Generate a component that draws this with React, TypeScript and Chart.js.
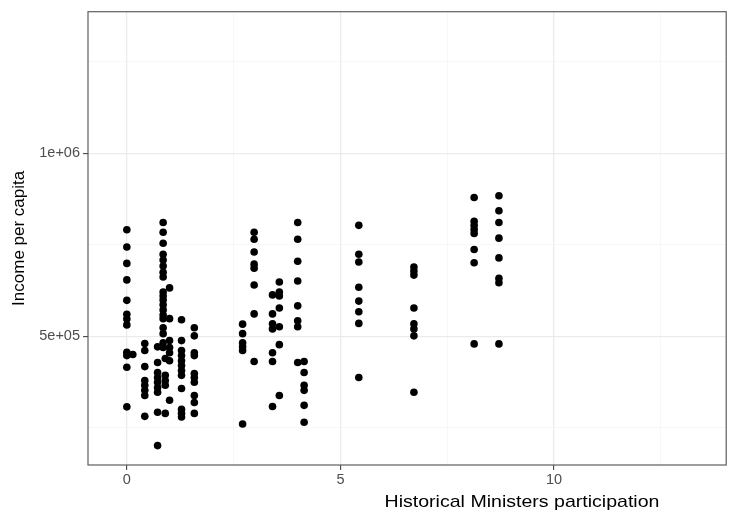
import { useEffect, useRef } from 'react';
import { Chart, registerables } from 'chart.js';

Chart.register(...registerables);

// Axis ranges
const X_MIN = -0.909;
const X_MAX = 14.03;
const Y_MIN = 148000;
const Y_MAX = 1387000;

// Grid / tick values
const X_GRID = [0, 2.5, 5, 7.5, 10, 12.5];
const X_MAJOR = [0, 5, 10];
const X_LABELS = ['0', '5', '10'];
const Y_GRID = [250000, 500000, 750000, 1000000, 1250000];
const Y_MAJOR = [500000, 1000000];
const Y_LABELS = ['5e+05', '1e+06'];

const X_TITLE = 'Historical Ministers participation';
const Y_TITLE = 'Income per capita';

// Historical ministers participation levels and incomes observed at each
const participationLevels = [0, 0.14, 0.42, 0.72, 0.85, 0.9, 1.0, 1.28, 1.58, 2.71, 2.98, 3.41, 3.57, 4.0, 4.15, 5.43, 6.72, 8.13, 8.71];

const incomeAt000 = [791000, 744000, 699000, 654000, 598000, 560000, 547000, 531000, 456000, 447000, 415000, 307000];
const incomeAt014 = [450000];
const incomeAt042 = [480000, 461000, 417000, 379000, 366000, 352000, 338000, 281000];
const incomeAt072 = [471000, 428000, 401000, 387000, 374000, 360000, 347000, 292000, 201000];
const incomeAt085 = [811000, 784000, 754000, 724000, 708000, 692000, 675000, 662000, 621000, 610000, 599000, 586000, 572000, 558000, 548000, 523000, 507000, 482000, 469000];
const incomeAt090 = [439000, 393000, 379000, 366000, 289000];
const incomeAt100 = [632000, 548000, 488000, 469000, 455000, 433000, 325000];
const incomeAt128 = [545000, 488000, 461000, 447000, 433000, 420000, 406000, 393000, 357000, 300000, 289000, 279000];
const incomeAt158 = [523000, 501000, 455000, 447000, 398000, 387000, 374000, 338000, 319000, 289000];
const incomeAt271 = [533000, 507000, 482000, 471000, 461000, 260000];
const incomeAt298 = [784000, 765000, 730000, 697000, 686000, 640000, 561000, 431000];
const incomeAt341 = [613000, 561000, 534000, 520000, 455000, 431000, 308000];
const incomeAt357 = [648000, 621000, 610000, 577000, 526000, 477000, 338000];
const incomeAt400 = [811000, 765000, 705000, 651000, 583000, 542000, 526000, 428000];
const incomeAt415 = [431000, 401000, 366000, 352000, 311000, 265000];
const incomeAt543 = [803000, 724000, 703000, 634000, 596000, 567000, 535000, 387000];
const incomeAt672 = [689000, 678000, 667000, 577000, 534000, 520000, 501000, 347000];
const incomeAt813 = [879000, 814000, 803000, 792000, 781000, 737000, 701000, 479000];
const incomeAt871 = [884000, 843000, 811000, 768000, 714000, 658000, 646000, 479000];

const incomeByLevel = [
  incomeAt000, incomeAt014, incomeAt042, incomeAt072, incomeAt085, incomeAt090, incomeAt100,
  incomeAt128, incomeAt158, incomeAt271, incomeAt298, incomeAt341, incomeAt357, incomeAt400,
  incomeAt415, incomeAt543, incomeAt672, incomeAt813, incomeAt871,
];

const FONT = '"Liberation Sans", Arial, Helvetica, sans-serif';
const MAJOR_GRID = '#ebebeb';
const MINOR_GRID = '#f3f3f3';

const decorPlugin = {
  id: 'decor',
  afterDraw(chart: any) {
    const { ctx, chartArea: a } = chart;
    ctx.save();
    ctx.strokeStyle = '#5e5e5e';
    ctx.lineWidth = 1.2;
    ctx.strokeRect(a.left, a.top, a.right - a.left, a.bottom - a.top);

    ctx.fillStyle = '#000';
    ctx.font = `17px ${FONT}`;
    ctx.textAlign = 'center';
    ctx.textBaseline = 'alphabetic';
    ctx.save();
    ctx.translate(522, 506.5);
    ctx.scale(1.15, 1);
    ctx.fillText(X_TITLE, 0, 0);
    ctx.restore();

    ctx.save();
    ctx.translate(24, (a.top + a.bottom) / 2);
    ctx.rotate(-Math.PI / 2);
    ctx.fillText(Y_TITLE, 0, 0);
    ctx.restore();
    ctx.restore();
  },
};

export default function App() {
  const canvasRef = useRef<HTMLCanvasElement | null>(null);

  useEffect(() => {
    if (!canvasRef.current) return;
    const points: { x: number; y: number }[] = [];
    participationLevels.forEach((lvl, i) => {
      incomeByLevel[i].forEach((v) => points.push({ x: lvl, y: v }));
    });

    const isMajor = (arr: number[], v: number) => arr.some((m) => Math.abs(m - v) < 1e-9);

    const chart = new Chart(canvasRef.current, {
      type: 'scatter',
      data: {
        datasets: [
          {
            data: points,
            backgroundColor: '#000',
            borderWidth: 0,
            pointRadius: 3.8,
            pointHoverRadius: 3.8,
          },
        ],
      },
      plugins: [decorPlugin],
      options: {
        responsive: false,
        animation: false,
        devicePixelRatio: 1,
        events: [],
        layout: { padding: { left: 0, right: 1, top: 9, bottom: 0 } },
        plugins: { legend: { display: false }, tooltip: { enabled: false }, title: { display: false } },
        scales: {
          x: {
            type: 'linear',
            min: X_MIN,
            max: X_MAX,
            afterBuildTicks: (s: any) => {
              s.ticks = X_GRID.map((v) => ({ value: v }));
            },
            afterFit: (s: any) => {
              s.height = 47;
            },
            border: { display: false },
            grid: {
              color: (c: any) => (isMajor(X_MAJOR, c.tick?.value) ? MAJOR_GRID : MINOR_GRID),
              lineWidth: (c: any) => (isMajor(X_MAJOR, c.tick?.value) ? 1.3 : 0.7),
              tickColor: (c: any) => (isMajor(X_MAJOR, c.tick?.value) ? '#333' : 'rgba(0,0,0,0)'),
              tickWidth: 1,
              tickLength: 5,
            },
            ticks: {
              autoSkip: false,
              maxRotation: 0,
              padding: 1,
              color: '#4d4d4d',
              font: { family: FONT, size: 14.5 },
              callback: (v: any) => {
                const idx = X_MAJOR.findIndex((m) => Math.abs(m - Number(v)) < 1e-9);
                return idx >= 0 ? X_LABELS[idx] : '';
              },
            },
          },
          y: {
            type: 'linear',
            min: Y_MIN,
            max: Y_MAX,
            afterBuildTicks: (s: any) => {
              s.ticks = Y_GRID.map((v) => ({ value: v }));
            },
            afterFit: (s: any) => {
              s.width = 88;
            },
            border: { display: false },
            grid: {
              color: (c: any) => (isMajor(Y_MAJOR, c.tick?.value) ? MAJOR_GRID : MINOR_GRID),
              lineWidth: (c: any) => (isMajor(Y_MAJOR, c.tick?.value) ? 1.3 : 0.7),
              tickColor: (c: any) => (isMajor(Y_MAJOR, c.tick?.value) ? '#333' : 'rgba(0,0,0,0)'),
              tickWidth: 1,
              tickLength: 5,
            },
            ticks: {
              autoSkip: false,
              padding: 3,
              color: '#4d4d4d',
              font: { family: FONT, size: 14.5 },
              callback: (v: any) => {
                const idx = Y_MAJOR.findIndex((m) => Math.abs(m - Number(v)) < 1e-6);
                return idx >= 0 ? Y_LABELS[idx] : '';
              },
            },
          },
        },
      },
    } as any);

    return () => chart.destroy();
  }, []);

  return (
    <div style={{ position: 'absolute', left: 0, top: 0, width: 730, height: 512, background: '#fff' }}>
      <canvas ref={canvasRef} width={730} height={512} style={{ width: 730, height: 512, display: 'block' }} />
    </div>
  );
}
